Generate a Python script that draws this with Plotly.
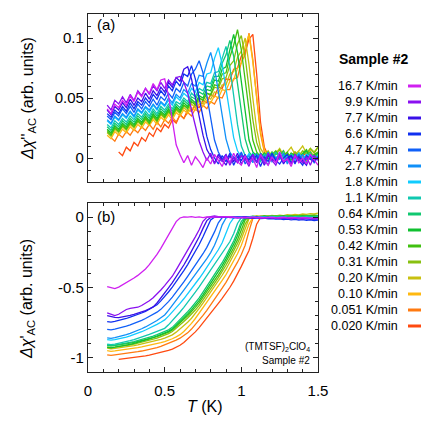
import plotly.graph_objects as go

# temperature grid (K), shared by all sweeps
T = [0.125, 0.15, 0.175, 0.2, 0.225, 0.25, 0.275, 0.3, 0.325, 0.35,
     0.375, 0.4, 0.425, 0.45, 0.475, 0.5, 0.525, 0.55, 0.575, 0.6,
     0.625, 0.65, 0.675, 0.7, 0.725, 0.75, 0.775, 0.8, 0.825, 0.85,
     0.875, 0.9, 0.925, 0.95, 0.975, 1.0, 1.025, 1.05, 1.075, 1.1,
     1.125, 1.15, 1.175, 1.2, 1.225, 1.25, 1.275, 1.3, 1.325, 1.35,
     1.375, 1.4, 1.425, 1.45, 1.475, 1.5]

rates = ['16.7', '9.9', '7.7', '6.6', '4.7', '2.7', '1.8', '1.1',
         '0.64', '0.53', '0.42', '0.31', '0.20', '0.10', '0.051', '0.020']
colors = ['#D020F0', '#8A10F0', '#3A10E8', '#1030F0', '#1060F8', '#1090F8',
          '#10CCFF', '#10C8B0', '#10C870', '#10C030', '#40C010', '#88C010',
          '#C8C010', '#FFB810', '#FF7A10', '#FF4A10']

# panel (a): delta chi'' in units of 1e-3
a_16_7 = [41, 37, 45, 42, 48, 44, 52, 47, 55, 51, 58, 54, 62, 57, 65, 66,
          52, 30, 11, 3, -4, 2, -6, 1, -3, -8, 0, -5, 3, -2, -7, 1, -4, 4, -3, -6,
          2, -5, 0, -8, 3, -2, -6, 1, -4, 5, -3, -1, -7, 2, -4, 0, -5, 3, -2, -6]
a_9_9 = [44, 40, 48, 45, 51, 46, 53, 48, 56, 52, 58, 53, 60, 56, 63, 58, 65, 61, 67,
         68, 63, 54, 40, 28, 14, 5,
         -2, 4, -5, 1, -3, 3, -6, 0, -4, 2, -1, -7, 3, -3, 1, -5, 4, -2, -6, 2,
         -3, 0, -5, 3, -1, -4, 1, -6, 2, -2]
a_7_7 = [40, 36, 43, 40, 46, 42, 49, 44, 50, 47, 54, 49, 56, 52, 59, 55, 63, 59, 67, 64, 74,
         76, 66, 50, 34, 19, 7,
         1, -4, 3, -2, -6, 2, -3, 4, -5, 0, -2, 3, -4, 1, -6, 2, -1, -3, 4, -5,
         0, 2, -4, 1, -3, -6, 3, -2, 0]
a_6_6 = [37, 34, 40, 37, 43, 39, 46, 41, 47, 44, 50, 46, 53, 49, 56, 52, 60, 56, 64, 60, 70, 68,
         77, 66, 50, 34, 18, 7,
         0, -5, 2, -3, 4, -6, 1, -2, 3, -4, -1, 2, -7, 1, -3, 4, -2, -5, 0, 3,
         -4, 1, -2, -6, 2, -1, -3, 1]
a_4_7 = [35, 32, 38, 35, 41, 37, 43, 38, 45, 41, 47, 43, 49, 44, 51, 48, 54, 50, 58, 55, 63, 60, 70, 74,
         81, 71, 52, 33, 15, 5,
         -1, 3, -4, 1, -2, 5, -5, 0, 2, -3, 4, -1, -6, 2, -2, 3, -4, 0, 1, -5,
         3, -2, -1, 2, -4, 1]
a_2_7 = [32, 29, 35, 32, 37, 34, 39, 35, 41, 38, 43, 40, 45, 41, 47, 44, 50, 46, 53, 50, 57, 54,
         62, 60, 69, 68, 79,
         88, 75, 55, 35, 16, 5,
         0, -3, 4, -1, 2, -4, 3, 0, -2, 5, -3, 1, -1, 4, -5, 2, 0, -2, 3, -4, 1, 2, -1]
a_1_8 = [31, 28, 34, 31, 36, 33, 38, 34, 40, 37, 42, 38, 44, 40, 46, 43, 48, 44, 51, 48, 54, 51,
         58, 55, 63, 61, 70, 71, 83,
         92, 78, 57, 36, 17, 6,
         1, -2, 4, -3, 2, 0, -4, 3, 1, -1, 5, -3, 2, 0, -2, 4, -1, 3, 1, -3, 2]
a_1_1 = [28, 25, 31, 28, 33, 30, 35, 32, 37, 34, 39, 35, 41, 37, 43, 40, 45, 41, 47, 45, 50, 47,
         54, 51, 58, 56, 63, 62, 71, 72, 83,
         93, 76, 52, 28, 10,
         2, -1, 4, 0, -3, 3, 1, -2, 5, -1, 2, -3, 3, 0, 4, -2, 1, 3, -1, 2]
a_0_64 = [26, 23, 29, 26, 31, 28, 33, 30, 35, 32, 37, 33, 39, 35, 41, 38, 43, 39, 45, 42, 48, 45,
          51, 49, 55, 53, 60, 59, 68, 68, 79, 86,
          98, 85, 62, 38, 16, 5,
          1, 4, -2, 3, 0, 5, -1, 2, 6, -2, 3, 1, 4, -1, 2, 5, 0, 3]
a_0_53 = [24, 21, 27, 24, 29, 26, 31, 28, 33, 30, 35, 31, 37, 33, 39, 36, 41, 37, 43, 40, 46, 43,
          49, 46, 52, 50, 57, 56, 65, 64, 74, 76, 90,
          103, 88, 64, 38, 15, 5,
          2, -1, 4, 1, -2, 5, 0, 3, -1, 4, 2, -2, 3, 6, 0, 2, 4]
a_0_42 = [22, 19, 25, 22, 27, 24, 29, 26, 31, 28, 33, 29, 35, 31, 37, 34, 39, 35, 41, 38, 44, 41,
          47, 44, 50, 48, 54, 53, 61, 60, 70, 71, 84, 94,
          107, 90, 65, 38, 15, 5,
          1, 4, -1, 3, 6, 0, 2, 5, -2, 3, 1, 4, 7, 0, 3, 5]
a_0_31 = [23, 20, 26, 23, 28, 25, 30, 27, 32, 29, 34, 30, 36, 32, 38, 35, 40, 36, 42, 39, 44, 42,
          47, 45, 50, 48, 54, 52, 59, 58, 66, 67, 77, 81, 95,
          102, 84, 58, 32, 13, 4,
          2, 5, 0, 3, 7, 1, 4, -1, 5, 2, 6, 3, 8, 4, 9]
a_0_20 = [21, 18, 24, 21, 26, 23, 28, 25, 30, 27, 32, 28, 34, 30, 36, 33, 38, 34, 40, 37, 42, 39,
          45, 42, 48, 45, 51, 49, 55, 54, 61, 61, 70, 72, 84, 89,
          100, 78, 50, 24, 8,
          3, 6, 1, 4, 8, 2, 5, 9, 3, 6, 10, 4, 8, 5, 9]
a_0_10 = [19, 16, 22, 19, 24, 21, 26, 23, 28, 25, 30, 27, 32, 28, 34, 31, 36, 32, 38, 35, 40, 37,
          42, 40, 45, 43, 48, 46, 52, 50, 57, 56, 64, 65, 75, 79, 93,
          103, 80, 50, 22, 7,
          2, 5, -1, 3, 6, 0, 4, 1, 5, -2, 3, 6, 1, 4]
a_0_051 = [None, 17, 14, 20, 17, 22, 19, 24, 21, 26, 23, 28, 24, 30, 26, 32, 29, 34, 30, 36, 33,
           38, 35, 41, 38, 44, 41, 47, 45, 51, 50, 57, 57, 66, 67, 80, 86,
           104, 82, 50, 20, 5,
           0, 4, -2, 3, 6, -1, 2, 5, 0, 3, -3, 4, 1, 5]
a_0_020 = [None, None, None, 5, 2, 9, 6, 13, 10, 17, 14, 21, 18, 25, 22, 28, 25, 32, 29, 36, 33, 40,
           39, 44, 42, 48, 46, 53, 51, 59, 58, 66, 65, 74, 75, 85, 88, 99,
           103, 70, 30, 9,
           2, -1, 4, 1, -3, 3, 0, 5, -2, 2, 4, -1, 3, 0]

# panel (b): delta chi' in units of 1e-3
b_16_7 = [-494, -503, -508, -497, -482, -466, -450, -433, -414, -393,
          -368, -338, -303, -265, -222, -175, -127, -80, -32, -6,
          2, 0, 3, -2, 1, -3, 2, -1, 0, -4, 1, -2, 3, -1, -3, 0, -5, -2, 1, -4,
          -1, -6, -2, 0, -5, -3, -1, -6, -2, -4, -7, -3, -5, -8, -4, -6]
b_9_9 = [-680, -692, -700, -690, -672, -656, -648, -645, -640, -628,
         -612, -594, -572, -547, -518, -487, -455, -420, -375, -330,
         -285, -237, -190, -140, -90, -30, -2, 5,
         8, 3, -1, 2, -3, 0, -5, -2, 1, -4, -6, -2, -8, -5, -3, -9, -6, -10, -4, -8,
         -12, -7, -10, -14, -9, -12, -15, -11]
b_7_7 = [-700, -708, -712, -714, -710, -704, -698, -691, -683, -674,
         -664, -652, -638, -610, -577, -540, -503, -465, -425, -383,
         -340, -293, -245, -195, -140, -80, -25, -2,
         2, -1, 3, 0, -2, 1, -4, -1, 2, -3, -5, -1, -6, -3, -2, -7, -4, -8, -3, -6,
         -9, -5, -8, -11, -7, -10, -12, -9]
b_6_6 = [-742, -746, -741, -735, -728, -720, -711, -702, -692, -681,
         -669, -655, -640, -623, -595, -565, -532, -497, -460, -421,
         -380, -337, -292, -245, -195, -140, -78, -20, -1,
         0, -3, 1, -2, -5, -1, -4, -7, -3, -9, -6, -11, -8, -13, -10, -15, -12, -17,
         -14, -19, -16, -21, -18, -23, -20, -25, -22]
b_4_7 = [-797, -801, -796, -790, -783, -775, -766, -756, -745, -733,
         -720, -706, -691, -675, -655, -630, -600, -568, -534, -498,
         -460, -421, -382, -342, -302, -260, -215, -165, -105, -40, -4,
         1, -2, 2, -1, -4, 0, -3, -6, -2, -5, -8, -4, -7, -10, -6, -9, -12, -8, -11,
         -14, -10, -13, -16, -12, -15]
b_2_7 = [-857, -861, -856, -850, -843, -835, -826, -816, -805, -793,
         -780, -766, -751, -734, -715, -695, -662, -628, -593, -555,
         -518, -482, -446, -410, -373, -335, -295, -252, -200, -135, -55, -6,
         2, -1, 3, 0, -2, 1, -3, 0, -4, -1, -5, -2, -6, -3, -7, -4, -8, -5, -9, -6,
         -10, -7, -11, -8]
b_1_8 = [-870, -874, -870, -865, -859, -852, -844, -835, -825, -814,
         -802, -790, -777, -762, -747, -730, -703, -675, -645, -613,
         -580, -546, -511, -474, -436, -398, -358, -318, -276, -232,
         -182, -120, -45, -5,
         2, -1, 3, 1, -2, 2, -1, 0, -3, 1, -2, -4, 0, -3, -5, -1, -4, -6, -2, -5, -7, -3]
b_1_1 = [-903, -906, -902, -897, -891, -885, -878, -870, -862, -853,
         -843, -833, -822, -811, -800, -790, -765, -737, -706, -674,
         -641, -607, -571, -533, -495, -456, -417, -378, -338, -300,
         -262, -222, -175, -118, -45, -4,
         2, 0, 4, 1, -1, 3, 0, 2, -2, 1, 4, 0, -1, 3, 1, -2, 2, 0, -1, 3]
b_0_64 = [-910, -914, -910, -906, -901, -896, -890, -884, -877, -870,
          -862, -854, -845, -835, -825, -815, -801, -783, -757, -728,
          -700, -672, -642, -609, -573, -533, -492, -451, -410, -370,
          -324, -275, -225, -170, -105, -30, -1,
          3, 6, 2, 5, 1, 4, 7, 3, 6, 2, 8, 5, 3, 7, 4, 9, 6, 3, 8]
b_0_53 = [-925, -928, -924, -920, -915, -909, -903, -896, -889, -881,
          -873, -864, -855, -845, -835, -825, -811, -794, -769, -742,
          -715, -688, -659, -627, -592, -553, -512, -471, -430, -390,
          -345, -297, -246, -192, -130, -55, -5,
          2, 5, 1, 4, 7, 3, 6, 2, 5, 8, 4, 7, 3, 6, 9, 5, 8, 4, 7]
b_0_42 = [-908, -913, -911, -908, -904, -900, -895, -890, -884, -878,
          -871, -864, -856, -848, -839, -830, -817, -801, -778, -752,
          -726, -700, -672, -641, -608, -570, -530, -490, -450, -410,
          -367, -320, -270, -218, -160, -90, -20,
          1, 4, 0, 3, 6, 2, 5, 8, 4, 7, 3, 6, 9, 5, 8, 11, 7, 10, 6]
b_0_31 = [-922, -926, -923, -920, -916, -912, -907, -902, -896, -890,
          -883, -875, -867, -859, -850, -840, -828, -813, -791, -767,
          -742, -717, -690, -660, -627, -590, -550, -510, -470, -430,
          -388, -342, -293, -243, -188, -125, -50, -4,
          3, 6, 2, 5, 8, 4, 7, 10, 6, 9, 12, 8, 11, 14, 10, 13, 16, 12]
b_0_20 = [-930, -935, -932, -929, -926, -922, -918, -913, -908, -902,
          -896, -889, -882, -875, -868, -860, -849, -836, -817, -795,
          -772, -746, -718, -685, -648, -610, -572, -533, -493, -455,
          -413, -370, -322, -272, -218, -155, -80, -12,
          4, 8, 5, 10, 7, 12, 9, 14, 11, 17, 14, 19, 16, 22, 19, 25, 22, 28]
b_0_10 = [-948, -953, -950, -947, -944, -940, -936, -932, -927, -922,
          -917, -911, -905, -899, -892, -884, -875, -864, -851, -835,
          -812, -785, -755, -720, -682, -645, -607, -568, -528, -490,
          -450, -408, -362, -313, -260, -200, -130, -50, -3,
          3, 6, 2, 5, 8, 4, 7, 3, 6, 9, 5, 8, 4, 7, 10, 6, 9]
b_0_051 = [-978, -982, -978, -975, -972, -969, -965, -961, -956, -951,
           -946, -940, -934, -927, -918, -908, -897, -885, -873, -860,
           -842, -822, -795, -765, -733, -698, -662, -624, -585, -545,
           -505, -463, -418, -370, -320, -265, -200, -100, -10,
           2, 5, 1, 4, 7, 3, 6, 2, 5, 8, 4, 7, 3, 6, 9, 5, 8]
b_0_020 = [None, None, None, -1010, -1007, -1004, -1001, -998, -994, -990,
           -985, -980, -974, -968, -962, -955, -947, -937, -925, -910,
           -890, -867, -842, -815, -785, -752, -718, -683, -648, -612,
           -577, -540, -500, -455, -405, -350, -293, -237, -150, -50,
           -3, 4, 0, 3, 6, 2, 5, 1, 4, 7, 3, 6, 2, 5, 8, 4]

chi2_sets = [a_16_7, a_9_9, a_7_7, a_6_6, a_4_7, a_2_7, a_1_8, a_1_1,
             a_0_64, a_0_53, a_0_42, a_0_31, a_0_20, a_0_10, a_0_051, a_0_020]
chi1_sets = [b_16_7, b_9_9, b_7_7, b_6_6, b_4_7, b_2_7, b_1_8, b_1_1,
             b_0_64, b_0_53, b_0_42, b_0_31, b_0_20, b_0_10, b_0_051, b_0_020]

FONT = 'Liberation Sans, Arial, sans-serif'


def milli(vals):
    return [None if v is None else v / 1000 for v in vals]


fig = go.Figure()

# slowest sweep first so the fast ones end up on top
for k in reversed(range(len(rates))):
    fig.add_trace(go.Scatter(x=T, y=milli(chi2_sets[k]), mode='lines',
                             line=dict(color=colors[k], width=1.3),
                             showlegend=False, xaxis='x', yaxis='y'))
    fig.add_trace(go.Scatter(x=T, y=milli(chi1_sets[k]), mode='lines',
                             line=dict(color=colors[k], width=1.3),
                             showlegend=False, xaxis='x2', yaxis='y2'))

axis_common = dict(showline=True, linecolor='#222', linewidth=1.2, mirror='allticks',
                   ticks='inside', ticklen=5, tickcolor='#222', showgrid=False,
                   zeroline=False, tickfont=dict(size=15, family=FONT, color='black'))

fig.update_layout(
    width=436, height=436,
    margin=dict(l=88, r=118, t=14, b=64),
    paper_bgcolor='white', plot_bgcolor='white',
    font=dict(family=FONT, color='black'),
    xaxis=dict(axis_common, domain=[0, 1], anchor='y', range=[0, 1.5],
               tickvals=[0, 0.5, 1, 1.5], showticklabels=False,
               minor=dict(ticks='inside', ticklen=3, dtick=0.1, tick0=0, tickcolor='#222')),
    yaxis=dict(axis_common, domain=[0.5307, 1], anchor='x', range=[-0.02, 0.12],
               tickvals=[0, 0.05, 0.1], ticktext=['0', '0.05', '0.1'],
               minor=dict(ticks='inside', ticklen=3, dtick=0.01, tick0=0, tickcolor='#222')),
    xaxis2=dict(axis_common, domain=[0, 1], anchor='y2', range=[0, 1.5],
                tickvals=[0, 0.5, 1, 1.5], ticktext=['0', '0.5', '1', '1.5'],
                ticklabelstandoff=5,
                minor=dict(ticks='inside', ticklen=3, dtick=0.1, tick0=0, tickcolor='#222')),
    yaxis2=dict(axis_common, domain=[0, 0.472], anchor='x2', range=[-1.1, 0.1],
                tickvals=[-1, -0.5, 0], ticktext=['-1', '-0.5', '0'],
                minor=dict(ticks='inside', ticklen=3, dtick=0.1, tick0=0, tickcolor='#222')),
)

annotations = [
    dict(text='(a)', xref='x domain', yref='y domain', x=0.03, y=0.935,
         xanchor='left', yanchor='middle', showarrow=False, font=dict(size=15)),
    dict(text='(b)', xref='x2 domain', yref='y2 domain', x=0.03, y=0.923,
         xanchor='left', yanchor='middle', showarrow=False, font=dict(size=15)),
    dict(text='(TMTSF)<sub>2</sub>ClO<sub>4</sub>', xref='x2 domain', yref='y2 domain',
         x=0.974, y=0.15, xanchor='right', yanchor='middle', showarrow=False,
         font=dict(size=10)),
    dict(text='Sample #2', xref='x2 domain', yref='y2 domain', x=0.974, y=0.067,
         xanchor='right', yanchor='middle', showarrow=False, font=dict(size=10)),
    dict(text="<i>Δχ</i>''<sub>AC</sub> (arb. units)", xref='paper', yref='paper',
         x=-0.261, y=0.765, xanchor='center', yanchor='middle', textangle=-90,
         showarrow=False, font=dict(size=16)),
    dict(text="<i>Δχ</i>'<sub>AC</sub> (arb. units)", xref='paper', yref='paper',
         x=-0.261, y=0.204, xanchor='center', yanchor='middle', textangle=-90,
         showarrow=False, font=dict(size=16)),
    dict(text='<i>T</i> (K)', xref='paper', yref='paper', x=0.509, y=-0.097,
         xanchor='center', yanchor='middle', showarrow=False, font=dict(size=16)),
    dict(text='<b>Sample #2</b>', xref='paper', yref='paper', x=1.243, y=(372 - 59) / 358,
         xanchor='center', yanchor='middle', showarrow=False, font=dict(size=14)),
]

# hand-built legend: label on the left, colour swatch on the right
shapes = []
for k, r in enumerate(rates):
    yp = (372 - (86 + 16 * k)) / 358
    annotations.append(dict(text=f'{r} K/min', xref='paper', yref='paper', x=1.3565, y=yp,
                            xanchor='right', yanchor='middle', showarrow=False,
                            font=dict(size=12.5)))
    shapes.append(dict(type='line', xref='paper', yref='paper', x0=1.3913, x1=1.4478,
                       y0=yp, y1=yp, line=dict(color=colors[k], width=3)))

fig.update_layout(annotations=annotations, shapes=shapes)

# drop the default body margin so the figure sits at the window's top-left corner
fig.write_html('out.html', config={'displayModeBar': False},
               post_script="document.body.style.margin='0';")
